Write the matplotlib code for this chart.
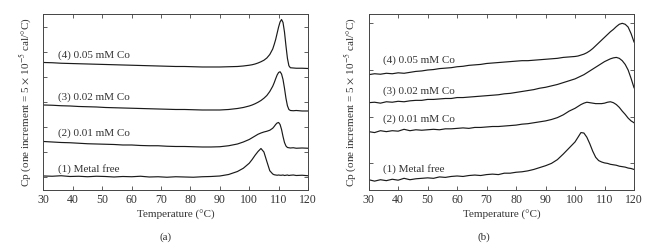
import matplotlib
matplotlib.use("Agg")
import matplotlib.pyplot as plt

plt.rcParams['font.family'] = ['Liberation Serif', 'DejaVu Serif']
plt.rcParams['mathtext.fontset'] = 'stix'

# ---- panel (a) data ----
temp_a = [30, 33, 36, 39, 42, 45, 48, 51, 54, 57, 60, 63, 66, 69, 72, 75, 78, 81, 84, 87, 90,
          93, 96, 98,
          100, 101, 102, 103, 104, 105, 106, 107, 108,
          108.5, 109, 109.5, 110, 110.5, 111, 111.5, 112, 112.5, 113, 113.5, 114,
          115, 116, 118, 120]

a_free = [0.04, 0.03, 0.05, 0.02, 0.03, 0.01, 0.03, 0.02, 0.00, 0.02, 0.01, 0.03, 0.00, 0.01,
          -0.01, 0.01, 0.00, -0.01, 0.01, 0.02, 0.04,
          0.10, 0.22, 0.35,
          0.55, 0.70, 0.87, 1.02, 1.14, 1.00, 0.62, 0.25, 0.12,
          0.09, 0.08, 0.07, 0.08, 0.07, 0.07, 0.08, 0.06, 0.07, 0.08, 0.06, 0.07,
          0.08, 0.06, 0.07, 0.05]

a_001 = [1.42, 1.40, 1.38, 1.37, 1.35, 1.33, 1.32, 1.31, 1.30, 1.28, 1.28, 1.26, 1.25, 1.25,
         1.23, 1.22, 1.22, 1.21, 1.20, 1.20, 1.21,
         1.25, 1.32, 1.40,
         1.50, 1.57, 1.64, 1.71, 1.76, 1.80, 1.83, 1.87, 1.95,
         2.02, 2.10, 2.16, 2.18, 2.10, 1.90, 1.62, 1.38, 1.24, 1.18, 1.17, 1.16,
         1.17, 1.15, 1.16, 1.15]

a_002 = [2.88, 2.87, 2.85, 2.84, 2.82, 2.81, 2.80, 2.78, 2.77, 2.76, 2.75, 2.74, 2.73, 2.72,
         2.71, 2.70, 2.70, 2.69, 2.68, 2.68, 2.68,
         2.70, 2.74, 2.78,
         2.84, 2.88, 2.93, 2.99, 3.06, 3.15, 3.26, 3.42, 3.63,
         3.77, 3.93, 4.08, 4.18, 4.21, 4.12, 3.90, 3.55, 3.15, 2.85, 2.70, 2.66,
         2.65, 2.66, 2.64, 2.64]

a_005 = [4.58, 4.57, 4.55, 4.54, 4.53, 4.52, 4.51, 4.50, 4.49, 4.48, 4.47, 4.46, 4.45, 4.44,
         4.43, 4.42, 4.42, 4.41, 4.40, 4.40, 4.40,
         4.41, 4.42, 4.44,
         4.47, 4.49, 4.52, 4.56, 4.61, 4.67, 4.76, 4.90, 5.12,
         5.30, 5.50, 5.75, 6.00, 6.20, 6.30, 6.18, 5.80, 5.25, 4.75, 4.45, 4.37,
         4.36, 4.35, 4.35, 4.34]

# ---- panel (b) data ----
temp_b = [30, 32, 34, 36, 38, 40, 42, 44, 46, 48, 50, 52, 54, 56, 58, 60, 62, 64, 66, 68,
          70, 72, 74, 76, 78, 80, 82, 84, 86, 88, 90,
          92, 94, 96, 98,
          100, 101, 102, 103, 104, 105, 106, 107, 108, 109, 110, 111, 112, 113, 114, 115,
          116, 117, 118, 119, 120]

b_free = [-0.35, -0.38, -0.35, -0.37, -0.34, -0.36, -0.32, -0.35, -0.33, -0.32, -0.31, -0.32,
          -0.29, -0.30, -0.28, -0.27, -0.28, -0.26, -0.25, -0.26, -0.24, -0.23, -0.24, -0.21,
          -0.21, -0.19, -0.18, -0.16, -0.13, -0.09, -0.05,
          0.00, 0.08, 0.20, 0.33,
          0.46, 0.56, 0.66, 0.65, 0.56, 0.42, 0.26, 0.13, 0.06, 0.03, 0.01, 0.00, -0.02, -0.03,
          -0.04, -0.06, -0.07, -0.08, -0.10, -0.11, -0.13]

b_001 = [0.68, 0.66, 0.70, 0.68, 0.70, 0.69, 0.73, 0.70, 0.72, 0.71, 0.72, 0.73, 0.72, 0.74,
         0.74, 0.75, 0.76, 0.75, 0.77, 0.77, 0.78, 0.79, 0.79, 0.80, 0.81, 0.82, 0.84, 0.85,
         0.87, 0.89, 0.91,
         0.94, 0.98, 1.04, 1.12,
         1.18, 1.22, 1.26, 1.29, 1.31, 1.30, 1.29, 1.28, 1.28, 1.28, 1.29, 1.31, 1.32, 1.30,
         1.26, 1.20, 1.12, 1.05, 0.97, 0.91, 0.87]

b_002 = [1.30, 1.31, 1.29, 1.32, 1.31, 1.33, 1.32, 1.34, 1.35, 1.35, 1.37, 1.37, 1.38, 1.39,
         1.39, 1.41, 1.41, 1.42, 1.43, 1.44, 1.45, 1.46, 1.47, 1.49, 1.50, 1.52, 1.54, 1.56,
         1.58, 1.61, 1.63,
         1.66, 1.69, 1.73, 1.77,
         1.81, 1.84, 1.87, 1.90, 1.94, 1.98, 2.02, 2.06, 2.10, 2.14, 2.18, 2.21, 2.24, 2.26,
         2.27, 2.25, 2.20, 2.12, 2.00, 1.82, 1.62]

b_005 = [1.90, 1.92, 1.91, 1.93, 1.92, 1.94, 1.93, 1.95, 1.97, 1.98, 2.00, 2.01, 2.03, 2.04,
         2.05, 2.07, 2.08, 2.10, 2.11, 2.12, 2.14, 2.15, 2.16, 2.17, 2.18, 2.19, 2.20, 2.20,
         2.21, 2.22, 2.23,
         2.24, 2.25, 2.27, 2.28,
         2.29, 2.30, 2.32, 2.34, 2.37, 2.41, 2.46, 2.52, 2.58, 2.64, 2.70, 2.76, 2.82, 2.87,
         2.93, 2.98, 3.00, 2.98, 2.92, 2.78, 2.60]

labels = ["(1) Metal free", "(2) 0.01 mM Co", "(3) 0.02 mM Co", "(4) 0.05 mM Co"]
label_y_a = [0.32, 1.76, 3.20, 4.88]
label_y_b = [-0.12, 0.95, 1.55, 2.21]

line_col = '#1a1a1a'
text_col = '#333333'

fig = plt.figure(figsize=(6.56, 2.48), dpi=100, facecolor='white')
ax_a = fig.add_axes([0.0663, 0.2339, 0.4032, 0.7097])
ax_b = fig.add_axes([0.562, 0.2339, 0.4045, 0.7097])

panels = [
    (ax_a, temp_a, [a_free, a_001, a_002, a_005], label_y_a, (-0.52, 6.52), range(0, 7), 35.0),
    (ax_b, temp_b, [b_free, b_001, b_002, b_005], label_y_b, (-0.57, 3.2), range(0, 4), 34.8),
]

for ax, temps, curves, ly, ylim, yt, lx in panels:
    for y, lab, yy in zip(curves, labels, ly):
        ax.plot(temps, y, color=line_col, lw=0.85)
        ax.text(lx, yy, lab, fontsize=8, color=text_col, ha='left', va='center')
    ax.set_xlim(30, 120)
    ax.set_ylim(*ylim)
    ax.set_xticks(range(30, 121, 10))
    ax.set_yticks(list(yt))
    ax.set_yticklabels([])
    ax.tick_params(direction='in', top=True, right=True, length=3, width=0.6,
                   labelsize=8.5, colors='#444444', labelcolor=text_col, pad=3)
    for s in ax.spines.values():
        s.set_linewidth(0.7)
        s.set_color('#444444')
    ax.set_xlabel("Temperature (°C)", fontsize=8, color=text_col, labelpad=3)
    ax.set_ylabel(r"Cp (one increment = 5 $\times$ 10$^{-5}$ cal/°C)", fontsize=8,
                  color=text_col, labelpad=4)

fig.text(0.252, 0.045, "(a)", fontsize=8, color=text_col, ha='center', va='center')
fig.text(0.737, 0.045, "(b)", fontsize=8, color=text_col, ha='center', va='center')

fig.savefig("out.png", dpi=100, facecolor='white')
